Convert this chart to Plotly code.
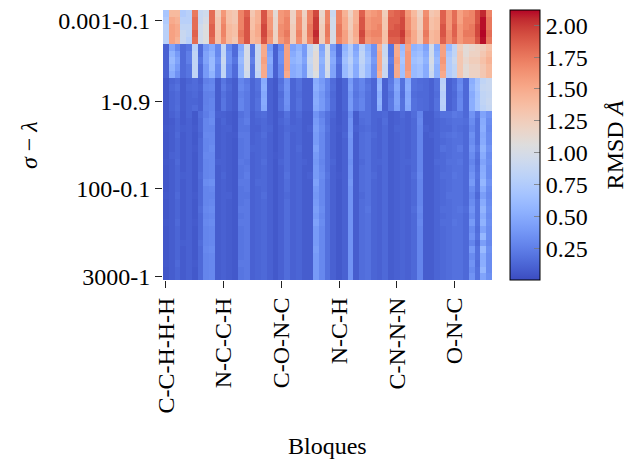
import plotly.graph_objects as go

# ---- tick labels ----
x_tick_labels = ["C-C-H-H-H", "N-C-C-H", "C-O-N-C", "N-C-H", "C-N-N-N", "O-N-C"]
x_tick_cols = [0, 10, 20, 30, 40, 50]
y_tick_labels = ["0.001-0.1", "1-0.9", "100-0.1", "3000-1"]
y_tick_rows = [1, 13, 26, 39]
n_cols = 57
cbar_ticks = [0.25, 0.50, 0.75, 1.00, 1.25, 1.50, 1.75, 2.00]

# ---- RMSD values (rows = sigma-lambda combos, cols = bloques) ----
block_a = [
    [0.70,1.40,1.40,0.75,0.80,1.75,0.90,0.95,1.80,1.25,1.60,1.35,1.30,1.70,1.85,1.30,1.45,1.90,1.55,1.10,1.60,1.65,1.20,1.60,1.20,1.70,1.95,1.15,1.70, 0.90,1.70,1.45,1.20,1.45,1.85,1.55,1.60,1.65,1.25,1.80,1.85,1.90,1.60,1.40,1.20,1.65,1.30,1.35,1.85,1.60,1.80,1.55,1.65,1.70,1.90,2.05,1.70],
    [0.75,1.50,1.45,0.80,0.80,1.80,0.90,1.00,1.80,1.30,1.65,1.35,1.30,1.70,1.90,1.35,1.45,1.90,1.60,1.15,1.60,1.70,1.20,1.65,1.25,1.70,2.00,1.20,1.70, 0.95,1.70,1.50,1.25,1.45,1.90,1.60,1.65,1.65,1.30,1.85,1.85,1.95,1.65,1.45,1.25,1.70,1.35,1.40,1.85,1.60,1.80,1.55,1.70,1.70,1.90,2.10,1.75],
    [0.80,1.55,1.50,0.85,0.85,1.80,0.95,1.05,1.85,1.30,1.70,1.40,1.35,1.70,1.90,1.35,1.50,1.95,1.60,1.15,1.65,1.70,1.25,1.65,1.25,1.75,2.00,1.25,1.75, 0.95,1.75,1.50,1.25,1.50,1.90,1.60,1.65,1.70,1.30,1.85,1.90,1.95,1.65,1.45,1.25,1.70,1.35,1.40,1.90,1.60,1.85,1.60,1.70,1.75,1.95,2.10,1.75],
    [0.80,1.55,1.50,0.90,0.85,1.85,0.95,1.05,1.85,1.35,1.70,1.40,1.35,1.75,1.90,1.40,1.50,1.95,1.65,1.20,1.65,1.75,1.25,1.70,1.30,1.75,2.05,1.25,1.75, 1.00,1.75,1.55,1.30,1.50,1.95,1.65,1.70,1.70,1.35,1.90,1.90,2.00,1.70,1.50,1.30,1.75,1.40,1.45,1.90,1.65,1.85,1.60,1.75,1.75,1.95,2.12,1.80],
    [0.80,1.55,1.45,0.90,0.80,1.80,0.95,1.05,1.80,1.35,1.65,1.40,1.30,1.70,1.90,1.40,1.45,1.90,1.60,1.20,1.60,1.70,1.25,1.65,1.30,1.70,2.00,1.25,1.70, 1.00,1.70,1.55,1.30,1.45,1.90,1.60,1.65,1.65,1.35,1.85,1.85,1.95,1.65,1.50,1.30,1.70,1.40,1.45,1.85,1.65,1.80,1.60,1.70,1.70,1.90,2.10,1.75],
]
block_b = [
    [0.10,0.45,0.30,0.15,0.20,0.80,0.15,0.40,0.50,0.30,0.85,0.30,0.15,0.50,1.00,0.20,0.90,1.50,0.40,0.10,0.30,1.55,0.45,0.55,0.40,0.85,1.05,0.45,1.00, 0.40,0.15,0.55,0.75,0.45,0.80,0.55,0.35,1.45,0.90,0.20,1.50,0.60,1.55,0.55,0.60,0.45,0.95,0.50,1.55,0.60,0.85,1.25,1.10,1.15,1.20,1.25,1.35],
    [0.10,0.55,0.40,0.15,0.25,0.85,0.15,0.45,0.55,0.30,0.85,0.35,0.15,0.55,1.00,0.20,0.90,1.50,0.45,0.10,0.35,1.55,0.50,0.60,0.40,0.85,1.10,0.50,1.00, 0.45,0.15,0.60,0.75,0.50,0.85,0.60,0.35,1.50,0.90,0.20,1.50,0.65,1.60,0.60,0.65,0.50,0.95,0.55,1.55,0.70,0.85,1.30,1.10,1.20,1.20,1.30,1.40],
    [0.10,0.60,0.45,0.15,0.25,0.85,0.20,0.45,0.60,0.35,0.90,0.35,0.20,0.60,1.00,0.25,0.90,1.55,0.50,0.10,0.35,1.55,0.55,0.60,0.45,0.90,1.10,0.55,1.00, 0.50,0.20,0.65,0.80,0.55,0.85,0.65,0.40,1.50,0.95,0.25,1.55,0.70,1.60,0.65,0.70,0.55,1.00,0.60,1.60,0.75,0.90,1.30,1.15,1.25,1.25,1.35,1.45],
    [0.10,0.55,0.40,0.15,0.20,0.85,0.15,0.40,0.60,0.30,0.85,0.30,0.15,0.55,1.00,0.20,0.90,1.50,0.45,0.10,0.30,1.55,0.50,0.55,0.40,0.85,1.10,0.50,1.00, 0.45,0.15,0.60,0.75,0.50,0.80,0.60,0.35,1.50,0.90,0.20,1.50,0.65,1.60,0.60,0.65,0.50,0.95,0.55,1.55,0.75,0.85,1.30,1.10,1.20,1.20,1.30,1.40],
    [0.10,0.50,0.35,0.15,0.20,0.85,0.15,0.40,0.55,0.30,0.85,0.30,0.15,0.55,0.95,0.20,0.85,1.50,0.45,0.10,0.30,1.50,0.50,0.55,0.40,0.85,1.05,0.50,0.95, 0.45,0.15,0.60,0.75,0.50,0.80,0.60,0.35,1.45,0.90,0.20,1.50,0.65,1.55,0.60,0.65,0.50,0.90,0.55,1.50,0.75,0.85,1.30,1.10,1.20,1.20,1.30,1.40],
]
block_c = [
    [0.05,0.12,0.15,0.08,0.12,0.15,0.10,0.25,0.28,0.08,0.20,0.12,0.08,0.28,0.22,0.12,0.18,0.50,0.10,0.06,0.18,0.35,0.12,0.18,0.10,0.10,0.50,0.40,0.28, 0.15,0.06,0.12,0.40,0.22,0.28,0.18,0.12,0.55,0.10,0.22,0.45,0.18,0.50,0.18,0.15,0.14,0.10,0.18,0.80,0.10,0.15,0.30,0.14,0.52,0.68,0.85,0.90],
    [0.05,0.14,0.18,0.08,0.14,0.15,0.12,0.28,0.30,0.08,0.22,0.14,0.08,0.30,0.24,0.12,0.18,0.52,0.10,0.06,0.20,0.36,0.12,0.18,0.10,0.10,0.52,0.42,0.28, 0.16,0.06,0.12,0.42,0.22,0.28,0.20,0.12,0.58,0.10,0.24,0.48,0.18,0.52,0.18,0.16,0.14,0.10,0.18,0.82,0.10,0.16,0.32,0.14,0.55,0.70,0.88,0.90],
    [0.05,0.12,0.15,0.08,0.12,0.14,0.10,0.25,0.26,0.08,0.18,0.12,0.08,0.26,0.22,0.12,0.16,0.48,0.10,0.06,0.16,0.34,0.12,0.16,0.10,0.10,0.48,0.38,0.26, 0.14,0.06,0.12,0.38,0.20,0.26,0.18,0.12,0.52,0.10,0.20,0.44,0.16,0.48,0.16,0.14,0.14,0.10,0.16,0.78,0.10,0.14,0.28,0.14,0.50,0.66,0.85,0.88],
    [0.05,0.12,0.15,0.08,0.12,0.12,0.10,0.25,0.28,0.08,0.20,0.12,0.08,0.28,0.22,0.12,0.18,0.50,0.10,0.06,0.18,0.35,0.12,0.18,0.10,0.10,0.50,0.40,0.28, 0.15,0.06,0.12,0.40,0.22,0.28,0.18,0.12,0.55,0.10,0.22,0.45,0.18,0.50,0.18,0.15,0.14,0.10,0.18,0.80,0.10,0.15,0.30,0.14,0.52,0.68,0.85,0.90],
    [0.05,0.12,0.16,0.08,0.12,0.15,0.10,0.26,0.28,0.08,0.20,0.12,0.08,0.28,0.22,0.12,0.18,0.48,0.10,0.06,0.18,0.33,0.12,0.18,0.10,0.10,0.48,0.40,0.28, 0.15,0.06,0.12,0.40,0.22,0.28,0.18,0.12,0.52,0.10,0.22,0.43,0.18,0.48,0.18,0.15,0.14,0.10,0.18,0.78,0.10,0.15,0.30,0.14,0.52,0.68,0.82,0.88],
]
block_d = [
    [0.05,0.10,0.14,0.07,0.12,0.06,0.16,0.24,0.30,0.10,0.10,0.08,0.06,0.18,0.22,0.10,0.14,0.16,0.10,0.06,0.10,0.18,0.10,0.14,0.08,0.08,0.36,0.26,0.18, 0.12,0.06,0.10,0.32,0.08,0.18,0.18,0.12,0.12,0.14,0.08,0.10,0.14,0.10,0.16,0.28,0.08,0.08,0.14,0.18,0.18,0.22,0.20,0.14,0.36,0.22,0.45,0.36],
    [0.05,0.07,0.12,0.07,0.10,0.06,0.14,0.28,0.32,0.08,0.12,0.08,0.06,0.20,0.24,0.10,0.12,0.14,0.10,0.06,0.12,0.16,0.10,0.12,0.08,0.08,0.40,0.30,0.18, 0.10,0.06,0.10,0.36,0.08,0.16,0.18,0.12,0.10,0.16,0.08,0.10,0.12,0.10,0.14,0.30,0.08,0.08,0.12,0.14,0.16,0.18,0.18,0.16,0.32,0.18,0.50,0.32],
    [0.06,0.08,0.12,0.09,0.10,0.07,0.14,0.28,0.28,0.08,0.10,0.10,0.06,0.20,0.20,0.10,0.10,0.14,0.12,0.06,0.10,0.14,0.12,0.12,0.08,0.10,0.42,0.32,0.20, 0.10,0.07,0.10,0.36,0.10,0.14,0.16,0.12,0.10,0.14,0.08,0.12,0.12,0.10,0.14,0.28,0.10,0.08,0.12,0.14,0.14,0.18,0.16,0.14,0.28,0.18,0.52,0.30],
    [0.05,0.08,0.14,0.07,0.10,0.06,0.12,0.30,0.30,0.08,0.10,0.08,0.07,0.22,0.22,0.10,0.12,0.16,0.10,0.06,0.10,0.16,0.10,0.12,0.08,0.08,0.40,0.30,0.18, 0.10,0.06,0.12,0.38,0.08,0.16,0.18,0.14,0.10,0.14,0.08,0.10,0.12,0.10,0.14,0.28,0.08,0.10,0.12,0.16,0.18,0.20,0.18,0.14,0.34,0.18,0.48,0.32],
    [0.05,0.08,0.12,0.07,0.10,0.06,0.14,0.28,0.30,0.08,0.10,0.08,0.06,0.20,0.22,0.10,0.12,0.14,0.10,0.06,0.10,0.16,0.10,0.12,0.08,0.08,0.40,0.30,0.18, 0.10,0.06,0.10,0.36,0.08,0.16,0.18,0.12,0.10,0.14,0.08,0.10,0.12,0.10,0.14,0.28,0.08,0.08,0.12,0.14,0.16,0.18,0.18,0.14,0.32,0.18,0.50,0.32],
]
block_e = [
    [0.05,0.08,0.12,0.07,0.10,0.07,0.14,0.28,0.32,0.08,0.10,0.08,0.06,0.20,0.22,0.12,0.12,0.14,0.10,0.06,0.10,0.16,0.10,0.14,0.08,0.08,0.44,0.30,0.18, 0.10,0.06,0.10,0.36,0.08,0.16,0.18,0.12,0.10,0.14,0.08,0.10,0.12,0.10,0.14,0.28,0.08,0.08,0.12,0.18,0.16,0.18,0.22,0.14,0.36,0.22,0.55,0.36],
    [0.05,0.10,0.12,0.07,0.10,0.06,0.14,0.30,0.30,0.08,0.10,0.08,0.06,0.20,0.22,0.10,0.12,0.14,0.10,0.07,0.10,0.16,0.10,0.12,0.08,0.08,0.40,0.30,0.18, 0.10,0.06,0.10,0.36,0.08,0.16,0.18,0.12,0.10,0.14,0.08,0.10,0.12,0.10,0.14,0.28,0.08,0.08,0.12,0.14,0.16,0.18,0.18,0.14,0.32,0.18,0.50,0.32],
    [0.06,0.08,0.14,0.07,0.10,0.06,0.14,0.28,0.30,0.10,0.10,0.08,0.06,0.22,0.20,0.10,0.12,0.16,0.10,0.06,0.12,0.16,0.10,0.12,0.10,0.08,0.38,0.28,0.18, 0.12,0.06,0.10,0.34,0.08,0.14,0.18,0.12,0.12,0.14,0.08,0.10,0.12,0.12,0.14,0.28,0.08,0.08,0.14,0.14,0.18,0.18,0.20,0.14,0.28,0.16,0.45,0.34],
    [0.05,0.08,0.12,0.07,0.10,0.06,0.14,0.28,0.30,0.08,0.10,0.08,0.06,0.20,0.22,0.10,0.12,0.14,0.10,0.06,0.10,0.16,0.10,0.12,0.08,0.08,0.40,0.30,0.18, 0.10,0.06,0.10,0.36,0.08,0.16,0.18,0.12,0.10,0.14,0.08,0.10,0.12,0.10,0.14,0.28,0.08,0.08,0.12,0.14,0.16,0.18,0.18,0.14,0.32,0.18,0.50,0.32],
    [0.05,0.08,0.12,0.09,0.10,0.06,0.16,0.28,0.30,0.08,0.12,0.08,0.06,0.20,0.24,0.10,0.12,0.14,0.10,0.06,0.10,0.18,0.10,0.12,0.08,0.10,0.40,0.32,0.20, 0.10,0.07,0.10,0.36,0.08,0.16,0.18,0.14,0.10,0.14,0.08,0.10,0.12,0.10,0.16,0.30,0.08,0.08,0.12,0.16,0.16,0.20,0.18,0.14,0.36,0.20,0.52,0.32],
]
block_f = [
    [0.05,0.08,0.12,0.07,0.10,0.06,0.14,0.32,0.34,0.08,0.10,0.08,0.06,0.22,0.22,0.10,0.14,0.14,0.10,0.06,0.10,0.16,0.10,0.12,0.08,0.08,0.44,0.30,0.18, 0.10,0.06,0.10,0.38,0.08,0.16,0.18,0.12,0.10,0.14,0.08,0.10,0.12,0.10,0.14,0.28,0.08,0.08,0.12,0.14,0.16,0.18,0.18,0.14,0.40,0.18,0.58,0.36],
    [0.05,0.08,0.12,0.07,0.10,0.06,0.14,0.28,0.30,0.08,0.10,0.08,0.06,0.20,0.22,0.10,0.12,0.14,0.10,0.06,0.10,0.16,0.10,0.12,0.08,0.08,0.40,0.30,0.18, 0.10,0.06,0.10,0.36,0.08,0.16,0.18,0.12,0.10,0.14,0.08,0.10,0.12,0.10,0.14,0.28,0.08,0.08,0.12,0.14,0.16,0.18,0.18,0.14,0.32,0.18,0.50,0.32],
    [0.06,0.08,0.14,0.07,0.10,0.07,0.14,0.28,0.28,0.08,0.10,0.10,0.06,0.20,0.20,0.10,0.12,0.16,0.10,0.06,0.10,0.14,0.10,0.12,0.08,0.08,0.38,0.30,0.18, 0.10,0.06,0.10,0.36,0.08,0.14,0.18,0.12,0.10,0.14,0.08,0.10,0.12,0.10,0.14,0.28,0.08,0.08,0.12,0.14,0.18,0.18,0.18,0.14,0.28,0.14,0.42,0.30],
    [0.05,0.08,0.12,0.07,0.10,0.06,0.14,0.28,0.30,0.08,0.10,0.08,0.06,0.20,0.22,0.10,0.12,0.14,0.10,0.06,0.10,0.16,0.10,0.12,0.08,0.08,0.40,0.30,0.18, 0.10,0.06,0.10,0.36,0.08,0.16,0.18,0.12,0.10,0.14,0.08,0.10,0.12,0.10,0.14,0.28,0.08,0.08,0.12,0.14,0.16,0.18,0.18,0.14,0.32,0.18,0.50,0.32],
    [0.05,0.08,0.12,0.07,0.10,0.06,0.16,0.30,0.32,0.08,0.10,0.08,0.06,0.22,0.22,0.10,0.12,0.14,0.10,0.06,0.10,0.16,0.10,0.12,0.08,0.08,0.42,0.32,0.18, 0.10,0.06,0.10,0.36,0.08,0.16,0.20,0.12,0.10,0.14,0.08,0.10,0.12,0.10,0.16,0.30,0.08,0.08,0.12,0.16,0.16,0.18,0.20,0.16,0.36,0.18,0.56,0.34],
]
block_g = [
    [0.05,0.08,0.12,0.07,0.10,0.06,0.14,0.28,0.30,0.08,0.10,0.08,0.06,0.20,0.22,0.10,0.12,0.14,0.10,0.06,0.10,0.16,0.10,0.12,0.08,0.08,0.40,0.30,0.18, 0.10,0.06,0.10,0.36,0.08,0.16,0.18,0.12,0.10,0.14,0.08,0.10,0.12,0.10,0.14,0.28,0.08,0.08,0.12,0.14,0.16,0.18,0.18,0.14,0.32,0.18,0.50,0.32],
    [0.06,0.08,0.14,0.07,0.10,0.07,0.14,0.30,0.32,0.08,0.10,0.08,0.06,0.22,0.22,0.10,0.12,0.14,0.10,0.06,0.10,0.16,0.10,0.12,0.08,0.08,0.44,0.32,0.18, 0.10,0.06,0.10,0.36,0.08,0.16,0.18,0.12,0.10,0.14,0.08,0.10,0.12,0.10,0.14,0.30,0.08,0.08,0.12,0.16,0.16,0.20,0.18,0.14,0.40,0.18,0.55,0.34],
    [0.05,0.08,0.12,0.07,0.10,0.06,0.14,0.28,0.30,0.08,0.10,0.08,0.06,0.20,0.22,0.10,0.12,0.14,0.10,0.06,0.10,0.16,0.10,0.12,0.08,0.08,0.40,0.30,0.18, 0.10,0.06,0.10,0.36,0.08,0.16,0.18,0.12,0.10,0.14,0.08,0.10,0.12,0.10,0.14,0.28,0.08,0.08,0.12,0.14,0.16,0.18,0.18,0.14,0.32,0.16,0.45,0.32],
    [0.05,0.08,0.12,0.07,0.10,0.06,0.14,0.28,0.30,0.08,0.10,0.08,0.06,0.20,0.22,0.10,0.12,0.14,0.10,0.06,0.10,0.16,0.10,0.12,0.08,0.08,0.40,0.30,0.18, 0.10,0.06,0.10,0.36,0.08,0.16,0.18,0.12,0.10,0.14,0.08,0.10,0.12,0.10,0.14,0.28,0.08,0.08,0.12,0.14,0.16,0.18,0.18,0.14,0.36,0.18,0.58,0.32],
    [0.05,0.08,0.12,0.09,0.10,0.06,0.16,0.28,0.30,0.08,0.10,0.08,0.06,0.20,0.22,0.10,0.12,0.14,0.10,0.06,0.10,0.16,0.10,0.12,0.08,0.08,0.40,0.30,0.18, 0.10,0.06,0.10,0.36,0.08,0.16,0.18,0.12,0.10,0.14,0.08,0.10,0.12,0.10,0.14,0.28,0.08,0.08,0.12,0.14,0.16,0.18,0.18,0.14,0.28,0.14,0.42,0.30],
]
block_h = [
    [0.05,0.08,0.12,0.07,0.10,0.06,0.14,0.30,0.32,0.08,0.10,0.08,0.06,0.20,0.22,0.10,0.12,0.14,0.10,0.06,0.10,0.16,0.10,0.12,0.08,0.08,0.42,0.30,0.18, 0.10,0.06,0.10,0.36,0.08,0.16,0.18,0.12,0.10,0.14,0.08,0.10,0.12,0.10,0.14,0.28,0.08,0.08,0.12,0.14,0.16,0.18,0.18,0.14,0.40,0.18,0.60,0.34],
    [0.05,0.08,0.12,0.07,0.10,0.06,0.14,0.28,0.30,0.08,0.10,0.08,0.06,0.20,0.22,0.10,0.12,0.14,0.10,0.06,0.10,0.16,0.10,0.12,0.08,0.08,0.40,0.30,0.18, 0.10,0.06,0.10,0.36,0.08,0.16,0.18,0.12,0.10,0.14,0.08,0.10,0.12,0.10,0.14,0.28,0.08,0.08,0.12,0.14,0.16,0.18,0.18,0.14,0.32,0.18,0.50,0.32],
    [0.06,0.08,0.14,0.07,0.10,0.07,0.14,0.28,0.30,0.08,0.10,0.08,0.06,0.22,0.22,0.10,0.12,0.14,0.10,0.06,0.10,0.16,0.10,0.12,0.08,0.08,0.40,0.30,0.18, 0.10,0.06,0.10,0.36,0.08,0.16,0.18,0.12,0.10,0.14,0.08,0.10,0.12,0.10,0.14,0.28,0.08,0.08,0.12,0.14,0.16,0.18,0.18,0.14,0.36,0.16,0.52,0.32],
    [0.05,0.08,0.12,0.07,0.10,0.06,0.14,0.28,0.30,0.08,0.10,0.08,0.06,0.20,0.22,0.10,0.12,0.14,0.10,0.06,0.10,0.16,0.10,0.12,0.08,0.08,0.40,0.30,0.18, 0.10,0.06,0.10,0.36,0.08,0.16,0.18,0.12,0.10,0.14,0.08,0.10,0.12,0.10,0.14,0.28,0.08,0.08,0.12,0.14,0.16,0.18,0.18,0.14,0.32,0.18,0.58,0.32],
    [0.05,0.08,0.12,0.07,0.10,0.06,0.14,0.28,0.30,0.08,0.10,0.08,0.06,0.20,0.22,0.10,0.12,0.14,0.10,0.06,0.10,0.16,0.10,0.12,0.08,0.08,0.40,0.30,0.18, 0.10,0.06,0.10,0.36,0.08,0.16,0.18,0.12,0.10,0.14,0.08,0.10,0.12,0.10,0.14,0.28,0.08,0.08,0.12,0.14,0.16,0.18,0.18,0.14,0.36,0.18,0.46,0.34],
]

z = block_a + block_b + block_c + block_d + block_e + block_f + block_g + block_h
n_rows = len(z)

# matplotlib "coolwarm" (Moreland) control points
coolwarm_rgb = [
    (59,76,192),(68,90,204),(77,104,215),(87,117,225),(98,130,234),(108,142,241),
    (119,154,247),(130,165,251),(141,176,254),(152,185,255),(163,194,255),(174,201,253),
    (184,208,249),(194,213,244),(204,217,238),(213,219,230),(221,221,221),(229,216,209),
    (236,211,197),(241,204,185),(245,196,173),(247,187,160),(247,177,148),(247,166,135),
    (244,154,123),(241,141,111),(236,127,99),(229,112,88),(222,96,77),(213,80,66),
    (203,62,56),(192,40,47),(180,4,38)]
nstops = len(coolwarm_rgb) - 1
coolwarm = [[i / nstops, "rgb(%d,%d,%d)" % c] for i, c in enumerate(coolwarm_rgb)]

FONT = "Liberation Serif"

fig = go.Figure(go.Heatmap(
    z=z, x=list(range(n_cols)), y=list(range(n_rows)),
    colorscale=coolwarm, zmin=0.0, zmax=2.12,
    colorbar=dict(
        thickness=30, len=1.0, lenmode="fraction", x=1.0547, xanchor="left",
        y=0.5, yanchor="middle", xpad=0, ypad=0,
        outlinewidth=1, outlinecolor="black",
        tickvals=cbar_ticks, ticktext=["%.2f" % v for v in cbar_ticks],
        ticks="inside", ticklen=6, tickcolor="rgba(120,120,120,0.8)",
        tickfont=dict(family=FONT, size=24, color="black"),
    ),
    hoverongaps=False,
))

title_font = dict(family=FONT, size=24, color="black")
fig.add_annotation(
    text="RMSD <i>Å</i>", xref="paper", yref="paper", x=1.375, y=0.5,
    xanchor="center", yanchor="middle", textangle=-90, showarrow=False,
    font=title_font,
)
fig.add_annotation(
    text="Bloques", xref="paper", yref="paper", x=0.5, y=-0.615,
    xanchor="center", yanchor="middle", showarrow=False, font=title_font,
    borderpad=0,
)
fig.add_annotation(
    text="<i>σ</i> − <i>λ</i>", xref="paper", yref="paper", x=-0.407, y=0.5,
    xanchor="center", yanchor="middle", textangle=-90, showarrow=False,
    font=title_font,
)

fig.update_layout(
    width=633, height=463,
    margin=dict(l=163, r=141, t=10, b=183),
    paper_bgcolor="white", plot_bgcolor="white",
    font=dict(family=FONT, size=24, color="black"),
    xaxis=dict(
        tickmode="array", tickvals=x_tick_cols, ticktext=x_tick_labels,
        tickangle=-90, ticks="outside", ticklen=7, tickwidth=1.2, tickcolor="#222",
        showgrid=False, zeroline=False, showline=False, automargin=False,
        range=[-0.5, n_cols - 0.5],
        tickfont=dict(family=FONT, size=24),
    ),
    yaxis=dict(
        tickmode="array", tickvals=y_tick_rows, ticktext=y_tick_labels,
        ticks="outside", ticklen=7, tickwidth=1.2, tickcolor="#222",
        showgrid=False, zeroline=False, showline=False, automargin=False,
        range=[n_rows - 0.5, -0.5],
        tickfont=dict(family=FONT, size=24),
    ),
)

fig.write_html("out.html")
